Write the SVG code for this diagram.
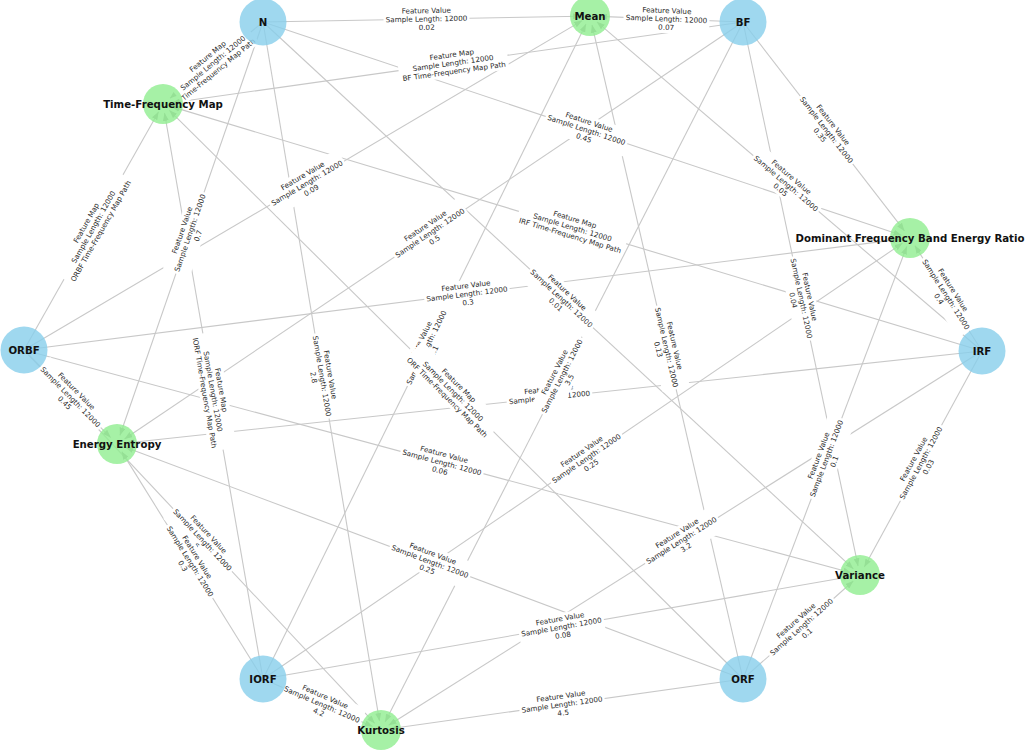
<svg xmlns="http://www.w3.org/2000/svg" width="1031" height="756" viewBox="0 0 1031 756">
<defs>
<marker id="arr" markerUnits="userSpaceOnUse" markerWidth="8" markerHeight="6" refX="8" refY="3" orient="auto">
<path d="M0,0 L8,3 L0,6 z" fill="#a8a8a8"/>
</marker>
<style>
.e line{stroke:#c8c8c8;stroke-width:1.1;marker-end:url(#arr)}
.lb rect{fill:#fff}
.lb text{font-family:"DejaVu Sans","Liberation Sans",sans-serif;font-size:7.2px;text-anchor:middle;fill:#2a2a2a}
.nb{fill:#87CEEB;fill-opacity:0.8}
.ng{fill:#90EE90;fill-opacity:0.8}
.nt{font-family:"DejaVu Sans","Liberation Sans",sans-serif;font-size:10.2px;font-weight:bold;text-anchor:middle;fill:#111}
</style>
</defs>
<rect width="1031" height="756" fill="#fff"/>
<g id="connectors" class="e">
<line x1="263" y1="22" x2="581" y2="16.2"/>
<line x1="263" y1="22" x2="169.96" y2="98.29"/>
<line x1="263" y1="22" x2="901.5" y2="235.2"/>
<line x1="263" y1="22" x2="119.9" y2="435.5"/>
<line x1="263" y1="22" x2="853.4" y2="568.9"/>
<line x1="263" y1="22" x2="379.5" y2="721.1"/>
<line x1="743" y1="22" x2="599" y2="16.4"/>
<line x1="743" y1="22" x2="171.9" y2="102.7"/>
<line x1="743" y1="22" x2="904.5" y2="230.9"/>
<line x1="743" y1="22" x2="124.5" y2="439"/>
<line x1="743" y1="22" x2="858.1" y2="566.2"/>
<line x1="743" y1="22" x2="385.1" y2="722"/>
<line x1="24" y1="350" x2="582.2" y2="20.6"/>
<line x1="24" y1="350" x2="158.6" y2="111.8"/>
<line x1="24" y1="350" x2="901.1" y2="239.1"/>
<line x1="24" y1="350" x2="110.7" y2="437.6"/>
<line x1="24" y1="350" x2="851.3" y2="572.7"/>
<line x1="24" y1="350" x2="374.8" y2="723.4"/>
<line x1="982" y1="351" x2="596.8" y2="21.8"/>
<line x1="982" y1="351" x2="171.6" y2="106.6"/>
<line x1="982" y1="351" x2="914.8" y2="245.6"/>
<line x1="982" y1="351" x2="126" y2="443"/>
<line x1="982" y1="351" x2="864.3" y2="567.1"/>
<line x1="982" y1="351" x2="388.6" y2="725.2"/>
<line x1="263" y1="679" x2="586" y2="24.1"/>
<line x1="263" y1="679" x2="164.5" y2="112.9"/>
<line x1="263" y1="679" x2="902.6" y2="243.1"/>
<line x1="263" y1="679" x2="121.7" y2="451.6"/>
<line x1="263" y1="679" x2="851.1" y2="576.5"/>
<line x1="263" y1="679" x2="372.7" y2="726.4"/>
<line x1="743" y1="679" x2="592" y2="24.8"/>
<line x1="743" y1="679" x2="169.4" y2="110.3"/>
<line x1="743" y1="679" x2="906.8" y2="246.4"/>
<line x1="743" y1="679" x2="125.4" y2="447.2"/>
<line x1="743" y1="679" x2="853.3" y2="581"/>
<line x1="743" y1="679" x2="389.9" y2="728.7"/>
</g>
<g id="edge-labels" class="lb">
<g transform="translate(426.5,19) rotate(-1.05)"><rect x="-43" y="-14" width="86" height="28" rx="2"/><text><tspan x="0" y="-5.9">Feature Value</tspan><tspan x="0" y="2.5">Sample Length: 12000</tspan><tspan x="0" y="10.9">0.02</tspan></text></g>
<g transform="translate(213,63) rotate(-39.4)"><rect x="-49" y="-14" width="98" height="28" rx="2"/><text><tspan x="0" y="-5.9">Feature Map</tspan><tspan x="0" y="2.5">Sample Length: 12000</tspan><tspan x="0" y="10.9">Time-Frequency Map Path</tspan></text></g>
<g transform="translate(586.5,130) rotate(18.46)"><rect x="-43" y="-14" width="86" height="28" rx="2"/><text><tspan x="0" y="-5.9">Feature Value</tspan><tspan x="0" y="2.5">Sample Length: 12000</tspan><tspan x="0" y="10.9">0.45</tspan></text></g>
<g transform="translate(190,233) rotate(-70.9)"><rect x="-43" y="-14" width="86" height="28" rx="2"/><text><tspan x="0" y="-5.9">Feature Value</tspan><tspan x="0" y="2.5">Sample Length: 12000</tspan><tspan x="0" y="10.9">0.7</tspan></text></g>
<g transform="translate(561.5,298.5) rotate(42.8)"><rect x="-43" y="-14" width="86" height="28" rx="2"/><text><tspan x="0" y="-5.9">Feature Value</tspan><tspan x="0" y="2.5">Sample Length: 12000</tspan><tspan x="0" y="10.9">0.01</tspan></text></g>
<g transform="translate(322,376) rotate(80.5)"><rect x="-43" y="-14" width="86" height="28" rx="2"/><text><tspan x="0" y="-5.9">Feature Value</tspan><tspan x="0" y="2.5">Sample Length: 12000</tspan><tspan x="0" y="10.9">2.8</tspan></text></g>
<g transform="translate(786,183.5) rotate(40.5)"><rect x="-43" y="-14" width="86" height="28" rx="2"/><text><tspan x="0" y="-5.9">Feature Value</tspan><tspan x="0" y="2.5">Sample Length: 12000</tspan><tspan x="0" y="10.9">0.05</tspan></text></g>
<g transform="translate(572.5,227.5) rotate(16.8)"><rect x="-56" y="-14" width="112" height="28" rx="2"/><text><tspan x="0" y="-5.9">Feature Map</tspan><tspan x="0" y="2.5">Sample Length: 12000</tspan><tspan x="0" y="10.9">IRF Time-Frequency Map Path</tspan></text></g>
<g transform="translate(946,294.5) rotate(57.5)"><rect x="-43" y="-14" width="86" height="28" rx="2"/><text><tspan x="0" y="-5.9">Feature Value</tspan><tspan x="0" y="2.5">Sample Length: 12000</tspan><tspan x="0" y="10.9">0.4</tspan></text></g>
<g transform="translate(549.5,397.5) rotate(-6.1)"><rect x="-43" y="-14" width="86" height="28" rx="2"/><text><tspan x="0" y="-5.9">Feature Value</tspan><tspan x="0" y="2.5">Sample Length: 12000</tspan></text></g>
<g transform="translate(921,463) rotate(-61.4)"><rect x="-43" y="-14" width="86" height="28" rx="2"/><text><tspan x="0" y="-5.9">Feature Value</tspan><tspan x="0" y="2.5">Sample Length: 12000</tspan><tspan x="0" y="10.9">0.03</tspan></text></g>
<g transform="translate(681.5,540.5) rotate(-32.2)"><rect x="-43" y="-14" width="86" height="28" rx="2"/><text><tspan x="0" y="-5.9">Feature Value</tspan><tspan x="0" y="2.5">Sample Length: 12000</tspan><tspan x="0" y="10.9">3.2</tspan></text></g>
<g transform="translate(666.5,19) rotate(2.25)"><rect x="-43" y="-14" width="86" height="28" rx="2"/><text><tspan x="0" y="-5.9">Feature Value</tspan><tspan x="0" y="2.5">Sample Length: 12000</tspan><tspan x="0" y="10.9">0.07</tspan></text></g>
<g transform="translate(453,63) rotate(-8.05)"><rect x="-55" y="-14" width="110" height="28" rx="2"/><text><tspan x="0" y="-5.9">Feature Map</tspan><tspan x="0" y="2.5">Sample Length: 12000</tspan><tspan x="0" y="10.9">BF Time-Frequency Map Path</tspan></text></g>
<g transform="translate(826.5,130) rotate(52.3)"><rect x="-43" y="-14" width="86" height="28" rx="2"/><text><tspan x="0" y="-5.9">Feature Value</tspan><tspan x="0" y="2.5">Sample Length: 12000</tspan><tspan x="0" y="10.9">0.35</tspan></text></g>
<g transform="translate(430,233) rotate(-34)"><rect x="-43" y="-14" width="86" height="28" rx="2"/><text><tspan x="0" y="-5.9">Feature Value</tspan><tspan x="0" y="2.5">Sample Length: 12000</tspan><tspan x="0" y="10.9">0.5</tspan></text></g>
<g transform="translate(801.5,298.5) rotate(78.05)"><rect x="-43" y="-14" width="86" height="28" rx="2"/><text><tspan x="0" y="-5.9">Feature Value</tspan><tspan x="0" y="2.5">Sample Length: 12000</tspan><tspan x="0" y="10.9">0.04</tspan></text></g>
<g transform="translate(562,376) rotate(-62.9)"><rect x="-43" y="-14" width="86" height="28" rx="2"/><text><tspan x="0" y="-5.9">Feature Value</tspan><tspan x="0" y="2.5">Sample Length: 12000</tspan><tspan x="0" y="10.9">3.5</tspan></text></g>
<g transform="translate(307,183) rotate(-30.55)"><rect x="-43" y="-14" width="86" height="28" rx="2"/><text><tspan x="0" y="-5.9">Feature Value</tspan><tspan x="0" y="2.5">Sample Length: 12000</tspan><tspan x="0" y="10.9">0.09</tspan></text></g>
<g transform="translate(93.5,227) rotate(-60.5)"><rect x="-60" y="-14" width="120" height="28" rx="2"/><text><tspan x="0" y="-5.9">Feature Map</tspan><tspan x="0" y="2.5">Sample Length: 12000</tspan><tspan x="0" y="10.9">ORBF Time-Frequency Map Path</tspan></text></g>
<g transform="translate(467,294) rotate(-7.2)"><rect x="-43" y="-14" width="86" height="28" rx="2"/><text><tspan x="0" y="-5.9">Feature Value</tspan><tspan x="0" y="2.5">Sample Length: 12000</tspan><tspan x="0" y="10.9">0.3</tspan></text></g>
<g transform="translate(70.5,397) rotate(45.3)"><rect x="-43" y="-14" width="86" height="28" rx="2"/><text><tspan x="0" y="-5.9">Feature Value</tspan><tspan x="0" y="2.5">Sample Length: 12000</tspan><tspan x="0" y="10.9">0.45</tspan></text></g>
<g transform="translate(442,462.5) rotate(15.06)"><rect x="-43" y="-14" width="86" height="28" rx="2"/><text><tspan x="0" y="-5.9">Feature Value</tspan><tspan x="0" y="2.5">Sample Length: 12000</tspan><tspan x="0" y="10.9">0.06</tspan></text></g>
<g transform="translate(202.5,540) rotate(46.8)"><rect x="-43" y="-14" width="86" height="28" rx="2"/><text><tspan x="0" y="-5.9">Feature Value</tspan><tspan x="0" y="2.5">Sample Length: 12000</tspan><tspan x="0" y="10.9">6</tspan></text></g>
<g transform="translate(426.5,347.5) rotate(-63.7)"><rect x="-43" y="-14" width="86" height="28" rx="2"/><text><tspan x="0" y="-5.9">Feature Value</tspan><tspan x="0" y="2.5">Sample Length: 12000</tspan><tspan x="0" y="10.9">1.1</tspan></text></g>
<g transform="translate(213,391.5) rotate(80.1)"><rect x="-59" y="-14" width="118" height="28" rx="2"/><text><tspan x="0" y="-5.9">Feature Map</tspan><tspan x="0" y="2.5">Sample Length: 12000</tspan><tspan x="0" y="10.9">IORF Time-Frequency Map Path</tspan></text></g>
<g transform="translate(586.5,458.5) rotate(-34.3)"><rect x="-43" y="-14" width="86" height="28" rx="2"/><text><tspan x="0" y="-5.9">Feature Value</tspan><tspan x="0" y="2.5">Sample Length: 12000</tspan><tspan x="0" y="10.9">0.25</tspan></text></g>
<g transform="translate(190,561.5) rotate(58.2)"><rect x="-43" y="-14" width="86" height="28" rx="2"/><text><tspan x="0" y="-5.9">Feature Value</tspan><tspan x="0" y="2.5">Sample Length: 12000</tspan><tspan x="0" y="10.9">0.3</tspan></text></g>
<g transform="translate(561.5,627) rotate(-9.9)"><rect x="-43" y="-14" width="86" height="28" rx="2"/><text><tspan x="0" y="-5.9">Feature Value</tspan><tspan x="0" y="2.5">Sample Length: 12000</tspan><tspan x="0" y="10.9">0.08</tspan></text></g>
<g transform="translate(322,704.5) rotate(23.4)"><rect x="-43" y="-14" width="86" height="28" rx="2"/><text><tspan x="0" y="-5.9">Feature Value</tspan><tspan x="0" y="2.5">Sample Length: 12000</tspan><tspan x="0" y="10.9">4.2</tspan></text></g>
<g transform="translate(666.5,347.5) rotate(77)"><rect x="-43" y="-14" width="86" height="28" rx="2"/><text><tspan x="0" y="-5.9">Feature Value</tspan><tspan x="0" y="2.5">Sample Length: 12000</tspan><tspan x="0" y="10.9">0.13</tspan></text></g>
<g transform="translate(453,391.5) rotate(44.75)"><rect x="-57" y="-14" width="114" height="28" rx="2"/><text><tspan x="0" y="-5.9">Feature Map</tspan><tspan x="0" y="2.5">Sample Length: 12000</tspan><tspan x="0" y="10.9">ORF Time-Frequency Map Path</tspan></text></g>
<g transform="translate(826.5,458.5) rotate(-69.3)"><rect x="-43" y="-14" width="86" height="28" rx="2"/><text><tspan x="0" y="-5.9">Feature Value</tspan><tspan x="0" y="2.5">Sample Length: 12000</tspan><tspan x="0" y="10.9">0.1</tspan></text></g>
<g transform="translate(430,561.5) rotate(20.6)"><rect x="-43" y="-14" width="86" height="28" rx="2"/><text><tspan x="0" y="-5.9">Feature Value</tspan><tspan x="0" y="2.5">Sample Length: 12000</tspan><tspan x="0" y="10.9">0.25</tspan></text></g>
<g transform="translate(801.5,627) rotate(-41.6)"><rect x="-43" y="-14" width="86" height="28" rx="2"/><text><tspan x="0" y="-5.9">Feature Value</tspan><tspan x="0" y="2.5">Sample Length: 12000</tspan><tspan x="0" y="10.9">0.1</tspan></text></g>
<g transform="translate(562,704.5) rotate(-8)"><rect x="-43" y="-14" width="86" height="28" rx="2"/><text><tspan x="0" y="-5.9">Feature Value</tspan><tspan x="0" y="2.5">Sample Length: 12000</tspan><tspan x="0" y="10.9">4.5</tspan></text></g>
</g>
<g id="node-N"><circle class="nb" cx="263" cy="22" r="23.5"/><text class="nt" x="263" y="25.6">N</text></g>
<g id="node-BF"><circle class="nb" cx="743" cy="22" r="23.5"/><text class="nt" x="743" y="25.6">BF</text></g>
<g id="node-ORBF"><circle class="nb" cx="24" cy="350" r="23.5"/><text class="nt" x="24" y="353.6">ORBF</text></g>
<g id="node-IRF"><circle class="nb" cx="982" cy="351" r="23.5"/><text class="nt" x="982" y="354.6">IRF</text></g>
<g id="node-IORF"><circle class="nb" cx="263" cy="679" r="23.5"/><text class="nt" x="263" y="682.6">IORF</text></g>
<g id="node-ORF"><circle class="nb" cx="743" cy="679" r="23.5"/><text class="nt" x="743" y="682.6">ORF</text></g>
<g id="node-Mean"><circle class="ng" cx="590" cy="16" r="20"/><text class="nt" x="590" y="19.6">Mean</text></g>
<g id="node-TFM"><circle class="ng" cx="163" cy="104" r="20"/><text class="nt" x="163" y="107.6">Time-Frequency Map</text></g>
<g id="node-Dom"><circle class="ng" cx="910" cy="238" r="20"/><text class="nt" x="910" y="241.6">Dominant Frequency Band Energy Ratio</text></g>
<g id="node-EE"><circle class="ng" cx="117" cy="444" r="20"/><text class="nt" x="117" y="447.6">Energy Entropy</text></g>
<g id="node-Var"><circle class="ng" cx="860" cy="575" r="20"/><text class="nt" x="860" y="578.6">Variance</text></g>
<g id="node-Kurt"><circle class="ng" cx="381" cy="730" r="20"/><text class="nt" x="381" y="733.6">Kurtosis</text></g>
</svg>
